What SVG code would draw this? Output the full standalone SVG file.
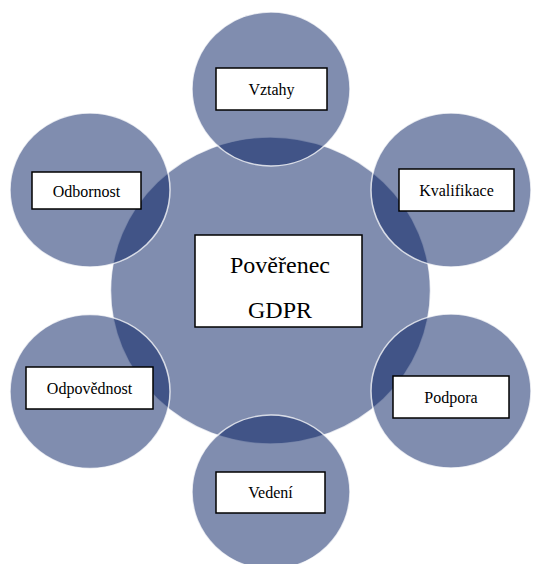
<svg xmlns="http://www.w3.org/2000/svg" width="534" height="564" viewBox="0 0 534 564" font-family="Liberation Serif">
<style>
.c{fill:#011b60;fill-opacity:0.5;stroke:#ffffff;stroke-opacity:0.75;stroke-width:1.5}
.b{fill:#ffffff;stroke:#000000;stroke-width:1.5}
</style>
<rect x="0" y="0" width="534" height="564" fill="#ffffff"/>
<g id="center-circle"><ellipse class="c" cx="270.5" cy="290.5" rx="160" ry="153.5"/></g>
<g id="vztahy"><ellipse class="c" cx="271" cy="89" rx="79" ry="77"/></g>
<g id="kvalifikace"><ellipse class="c" cx="451" cy="190" rx="80" ry="77"/></g>
<g id="podpora"><ellipse class="c" cx="451" cy="391" rx="80" ry="77"/></g>
<g id="vedeni"><ellipse class="c" cx="271" cy="492" rx="79" ry="77"/></g>
<g id="odpovednost"><ellipse class="c" cx="90" cy="391.5" rx="80" ry="77"/></g>
<g id="odbornost"><ellipse class="c" cx="90" cy="190" rx="80" ry="77"/></g>
<g id="label-center"><rect class="b" x="195" y="235" width="167" height="92"/></g>
<g id="label-vztahy"><rect class="b" x="216" y="68" width="111" height="42"/></g>
<g id="label-odbornost"><rect class="b" x="32" y="172" width="109" height="37"/></g>
<g id="label-kvalifikace"><rect class="b" x="399" y="169" width="115" height="42"/></g>
<g id="label-odpovednost"><rect class="b" x="26" y="367" width="127" height="42"/></g>
<g id="label-podpora"><rect class="b" x="393" y="376" width="116" height="42"/></g>
<g id="label-vedeni"><rect class="b" x="216" y="472" width="109" height="41"/></g>
<text style="font-family:'Liberation Serif'" font-size="24" x="280" y="273" text-anchor="middle">Pověřenec</text>
<text style="font-family:'Liberation Serif'" font-size="24" x="280" y="318" text-anchor="middle">GDPR</text>
<text style="font-family:'Liberation Serif'" font-size="16" x="271.5" y="95" text-anchor="middle">Vztahy</text>
<text style="font-family:'Liberation Serif'" font-size="16" x="86.5" y="197" text-anchor="middle">Odbornost</text>
<text style="font-family:'Liberation Serif'" font-size="16" x="456.5" y="196" text-anchor="middle">Kvalifikace</text>
<text style="font-family:'Liberation Serif'" font-size="16" x="89.5" y="394" text-anchor="middle">Odpovědnost</text>
<text style="font-family:'Liberation Serif'" font-size="16" x="451" y="402.5" text-anchor="middle">Podpora</text>
<text style="font-family:'Liberation Serif'" font-size="16" x="270.5" y="498" text-anchor="middle">Vedení</text>
<g id="connectors"></g>
</svg>
